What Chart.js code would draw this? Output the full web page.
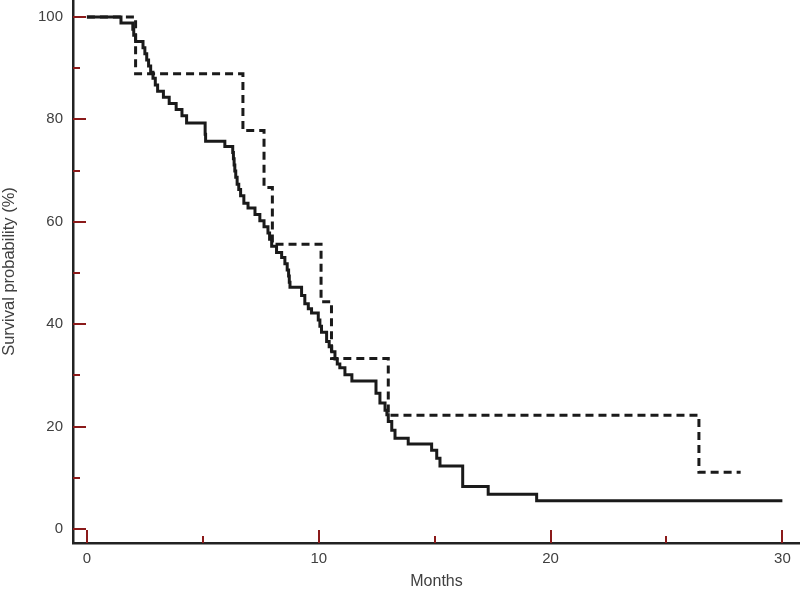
<!DOCTYPE html>
<html>
<head>
<meta charset="utf-8">
<script src="https://cdn.jsdelivr.net/npm/chart.js@4.4.1/dist/chart.umd.min.js"></script>
<style>
html,body{margin:0;padding:0;background:#fff}
#wrap{width:800px;height:591px;position:relative}
</style>
</head>
<body>
<div id="wrap"><canvas id="km"></canvas></div>
<script>
// Kaplan-Meier curves: time of each drop (months) and the survival (%) after it
const solidT=[0,1.47,1.98,2.02,2.1,2.42,2.5,2.58,2.66,2.75,2.85,2.95,3.05,3.3,3.55,3.85,4.1,4.3,5.1,5.12,5.95,
  6.29,6.32,6.35,6.38,6.42,6.48,6.55,6.63,6.77,6.95,7.25,7.46,7.64,7.81,7.88,7.97,8.18,8.4,8.54,8.64,8.7,8.73,8.76,
  9.26,9.4,9.55,9.69,9.98,10.05,10.12,10.34,10.45,10.56,10.7,10.8,10.91,11.13,11.43,
  12.47,12.64,12.86,12.94,13.0,13.15,13.29,13.86,14.87,15.09,15.23,16.21,17.31,19.4,30];
const solidS=[100,98.8,97.6,96.4,95.2,94.0,92.8,91.6,90.4,89.2,88.0,86.7,85.5,84.3,83.1,81.9,80.7,79.3,77.1,75.7,74.7,
  73.5,72.3,71.1,69.9,68.7,67.3,66.3,65.1,63.6,62.7,61.4,60.2,59.0,57.8,56.6,55.2,54.0,53.0,51.8,50.6,49.4,48.2,47.2,
  45.6,44.0,43.0,42.2,40.8,39.6,38.4,36.6,35.6,34.6,33.2,32.2,31.5,30.1,28.9,
  26.5,24.6,23.2,22.3,21.0,19.3,17.7,16.6,15.4,13.8,12.3,8.3,6.8,5.5,5.5];
const dashT=[0,2.1,6.73,7.64,8.0,10.1,10.55,13.0,26.4,28.2];
const dashS=[100,88.9,77.8,66.7,55.6,44.4,33.3,22.2,11.1,11.1];
const xTicks=[0,10,20,30], xMinor=[5,15,25];
const yTicks=[0,20,40,60,80,100], yMinor=[10,30,50,70,90];

const TICK_CLR="#8b1a1a", LBL_CLR="#404040", FONT="'Liberation Sans', Arial, sans-serif";

function pts(t,s){return t.map((x,i)=>({x:x,y:s[i]}))}

// inward red tick marks, majors longer than minors
const inTicks={id:"inTicks",afterDraw(ch){
  const c=ch.ctx,xs=ch.scales.x,ys=ch.scales.y,a=ch.chartArea;
  c.save();c.strokeStyle=TICK_CLR;c.lineWidth=2;c.beginPath();
  xTicks.forEach(v=>{const p=Math.round(xs.getPixelForValue(v));c.moveTo(p,a.bottom);c.lineTo(p,a.bottom-13)});
  xMinor.forEach(v=>{const p=Math.round(xs.getPixelForValue(v));c.moveTo(p,a.bottom);c.lineTo(p,a.bottom-7)});
  yTicks.forEach(v=>{const p=Math.round(ys.getPixelForValue(v));c.moveTo(a.left,p);c.lineTo(a.left+13,p)});
  yMinor.forEach(v=>{const p=Math.round(ys.getPixelForValue(v));c.moveTo(a.left,p);c.lineTo(a.left+7,p)});
  c.stroke();c.restore();
}};

new Chart(document.getElementById("km"),{
  type:"line",
  data:{datasets:[
    {label:"solid",data:pts(solidT,solidS),stepped:"before",borderColor:"#1a1a1a",borderWidth:3,pointRadius:0,fill:false,borderJoinStyle:"miter"},
    {label:"dashed",data:pts(dashT,dashS),stepped:"before",borderColor:"#1a1a1a",borderWidth:3,borderDash:[8,5],pointRadius:0,fill:false,borderJoinStyle:"miter"}
  ]},
  options:{
    responsive:true,maintainAspectRatio:false,animation:false,
    layout:{padding:0},
    plugins:{legend:{display:false},tooltip:{enabled:false}},
    scales:{
      x:{type:"linear",min:-0.6,max:30.76,
        afterBuildTicks:s=>{s.ticks=xTicks.map(v=>({value:v}))},
        afterFit:s=>{s.height=48;s.paddingLeft=0;s.paddingRight=0},
        grid:{display:false,drawTicks:false},
        border:{display:true,color:"#222",width:2.5},
        ticks:{padding:7,color:LBL_CLR,font:{family:FONT,size:15},maxRotation:0},
        title:{display:true,text:"Months",color:LBL_CLR,font:{family:FONT,size:16},padding:{top:0,bottom:0}}},
      y:{type:"linear",min:-2.73,max:103.3,
        afterBuildTicks:s=>{s.ticks=yTicks.map(v=>({value:v}))},
        afterFit:s=>{s.width=73;s.paddingTop=0;s.paddingBottom=0},
        grid:{display:false,drawTicks:false},
        border:{display:true,color:"#222",width:2.5},
        ticks:{padding:10,color:LBL_CLR,font:{family:FONT,size:15}},
        title:{display:true,text:"Survival probability (%)",color:LBL_CLR,font:{family:FONT,size:16.5},padding:{top:0,bottom:0}}}
    }
  },
  plugins:[inTicks]
});
</script>
</body>
</html>
